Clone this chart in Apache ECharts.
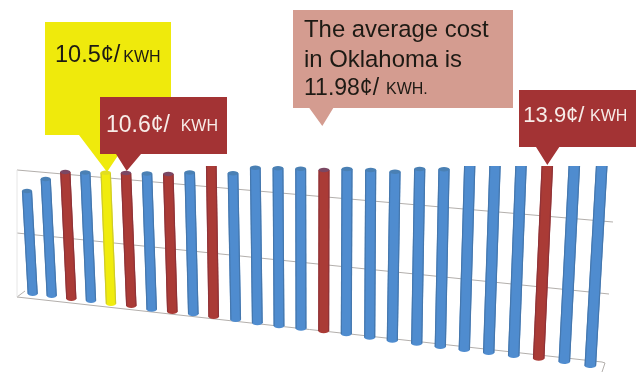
<!DOCTYPE html>
<html>
<head>
<meta charset="utf-8">
<style>
html, body { margin: 0; padding: 0; background: #fff; }
#main { width: 639px; height: 381px; }
</style>
<script src="https://cdn.jsdelivr.net/npm/echarts@6/dist/echarts.min.js"></script>
</head>
<body>
<div id="main"></div>
<script>
// bars (the chart is a tilted 3d view, so each bar has its own ends)
var barTopX = [27, 45.7, 65.3, 85.3, 105.7, 126, 147, 168.3, 189.7, 211.3, 233, 255.3, 278, 300.7, 324, 347, 370.7, 395, 419.7, 444, 469.7, 495, 521, 547.3, 574.3, 601.7];
var barTopY = [191, 179, 172, 172.5, 172.7, 173, 173.5, 174, 172.5, 166, 173.3, 167.7, 168.3, 168.7, 170, 169, 170, 171.7, 169, 169.3, 166, 166, 166, 166, 166, 166];
var barBottomX = [32.7, 51.7, 71.3, 91, 111, 131.3, 151.7, 172.3, 193.3, 213.7, 235.7, 257.3, 279, 301, 323.7, 346.3, 369.7, 392.3, 416.7, 440.3, 464.3, 488.7, 513.7, 538.7, 564.3, 590.3];
var barBottomY = [296, 298, 301, 303, 306, 308, 311.7, 314, 316.3, 319, 322, 325.3, 328.3, 330.7, 333.3, 336.3, 339.7, 342.7, 345.7, 349, 352, 355, 358, 360.7, 364, 368];
var barKind = ['b', 'b', 'r', 'b', 'y', 'r', 'b', 'r', 'b', 'r', 'b', 'b', 'b', 'b', 'r', 'b', 'b', 'b', 'b', 'b', 'b', 'b', 'b', 'r', 'b', 'b'];

// floor lines of the 3d box
var gridTop = [[17, 170], [613, 222]];
var gridMiddle = [[17, 233], [609, 294]];
var gridBottom = [[25, 291], [17, 297], [602, 362]];
var gridLeft = [[17, 170], [17, 297]];
var gridCorner = [[602, 362], [605, 363], [602, 372]];

// callouts
var yellowBox = [[45, 22], [171, 22], [171, 135], [125, 145], [107, 172], [79, 135], [45, 135]];
var redBoxLeft = [[100, 97], [227, 97], [227, 154], [141, 154], [126.7, 171], [116, 154], [100, 154]];
var pinkBox = [[293, 10], [513, 10], [513, 108], [333.3, 108], [322.3, 126], [309.3, 108], [293, 108]];
var redBoxRight = [[519, 90], [636, 90], [636, 147], [559.3, 147], [547.3, 165], [536, 147], [519, 147]];

var labelText = ['10.5¢/', 'KWH', '10.6¢/', 'KWH', 'The average cost', 'in Oklahoma is', '11.98¢/', 'KWH.', '13.9¢/', 'KWH'];
var labelX = [55, 123.3, 106, 180.7, 304, 304, 304, 386, 523.3, 590];
var labelY = [56, 58, 126, 127, 30, 60, 89, 90, 116, 117];
var labelSize = [23.5, 16, 23, 16, 23.9, 23.9, 23, 16, 22, 16];
var labelDark = [1, 1, 0, 0, 1, 1, 1, 1, 0, 0];

var barColors = {
    b: { edge: '#4577ad', mid: '#4f8ccf', cap: '#4a80b4' },
    r: { edge: '#8f3338', mid: '#aa3b36', cap: '#7b4763' },
    y: { edge: '#cfcb2a', mid: '#f0ec0e', cap: '#e2de20' }
};

var myChart = echarts.init(document.getElementById('main'), null, { renderer: 'canvas' });

function boxSeries(points, color, z) {
    return {
        type: 'custom',
        coordinateSystem: 'cartesian2d',
        silent: true,
        z: z,
        data: [0],
        renderItem: function (params, api) {
            return {
                type: 'polygon',
                shape: { points: points.map(function (p) { return api.coord(p); }) },
                style: { fill: color }
            };
        }
    };
}

function lineSeries(points, color) {
    return {
        type: 'line',
        data: points,
        silent: true,
        symbol: 'none',
        z: 1,
        lineStyle: { color: color, width: 1 }
    };
}

option = {
    animation: false,
    backgroundColor: '#fff',
    grid: { left: 0, right: 0, top: 0, bottom: 0 },
    xAxis: { type: 'value', min: 0, max: 639, show: false },
    yAxis: { type: 'value', min: 0, max: 381, inverse: true, show: false },
    series: [
        lineSeries(gridTop, '#b3afac'),
        lineSeries(gridMiddle, '#b3afac'),
        lineSeries(gridBottom, '#b3afac'),
        lineSeries(gridLeft, '#e6e6e6'),
        lineSeries(gridCorner, '#b3afac'),
        boxSeries(yellowBox, '#efea0c', 3),
        boxSeries(redBoxLeft, '#a33334', 4),
        boxSeries(pinkBox, '#d49c90', 3),
        boxSeries(redBoxRight, '#a33334', 4),
        {
            type: 'custom',
            coordinateSystem: 'cartesian2d',
            silent: true,
            z: 5,
            data: barKind.map(function (k, i) { return [barTopX[i], barTopY[i], barBottomX[i], barBottomY[i]]; }),
            encode: { x: [0, 2], y: [1, 3] },
            renderItem: function (params, api) {
                var i = params.dataIndex;
                var top = api.coord([api.value(0), api.value(1)]);
                var bottom = api.coord([api.value(2), api.value(3)]);
                var c = barColors[barKind[i]];
                var half = 5 + i * 0.03;
                var capH = 2.2;
                var edgeStyle = { stroke: c.edge, lineWidth: 1.2 };
                var children = [
                    {
                        type: 'ellipse',
                        shape: { cx: bottom[0], cy: bottom[1] - capH, rx: half, ry: capH },
                        style: { fill: c.mid }
                    },
                    {
                        type: 'polygon',
                        shape: { points: [
                            [top[0] - half, top[1]], [top[0] + half, top[1]],
                            [bottom[0] + half, bottom[1] - capH], [bottom[0] - half, bottom[1] - capH]
                        ] },
                        style: { fill: c.mid }
                    },
                    {
                        type: 'line',
                        shape: { x1: top[0] - half + 0.5, y1: top[1], x2: bottom[0] - half + 0.5, y2: bottom[1] - capH },
                        style: edgeStyle
                    },
                    {
                        type: 'line',
                        shape: { x1: top[0] + half - 0.5, y1: top[1], x2: bottom[0] + half - 0.5, y2: bottom[1] - capH },
                        style: edgeStyle
                    }
                ];
                // the bars cut off at the top edge have no visible cap
                if (top[1] > 166.5) {
                    children.push({
                        type: 'ellipse',
                        shape: { cx: top[0], cy: top[1], rx: half, ry: capH },
                        style: { fill: c.cap }
                    });
                }
                return { type: 'group', children: children };
            }
        },
        {
            type: 'custom',
            coordinateSystem: 'cartesian2d',
            silent: true,
            z: 6,
            data: labelText.map(function (t, i) { return [labelX[i], labelY[i]]; }),
            encode: { x: 0, y: 1 },
            renderItem: function (params, api) {
                var i = params.dataIndex;
                var p = api.coord([api.value(0), api.value(1)]);
                return {
                    type: 'text',
                    x: p[0],
                    y: p[1],
                    style: {
                        text: labelText[i],
                        fill: labelDark[i] ? '#1d1a14' : '#f7ece8',
                        font: labelSize[i] + 'px "Liberation Sans", Arial, sans-serif',
                        align: 'left',
                        verticalAlign: 'middle'
                    }
                };
            }
        }
    ]
};
myChart.setOption(option);
</script>
</body>
</html>
